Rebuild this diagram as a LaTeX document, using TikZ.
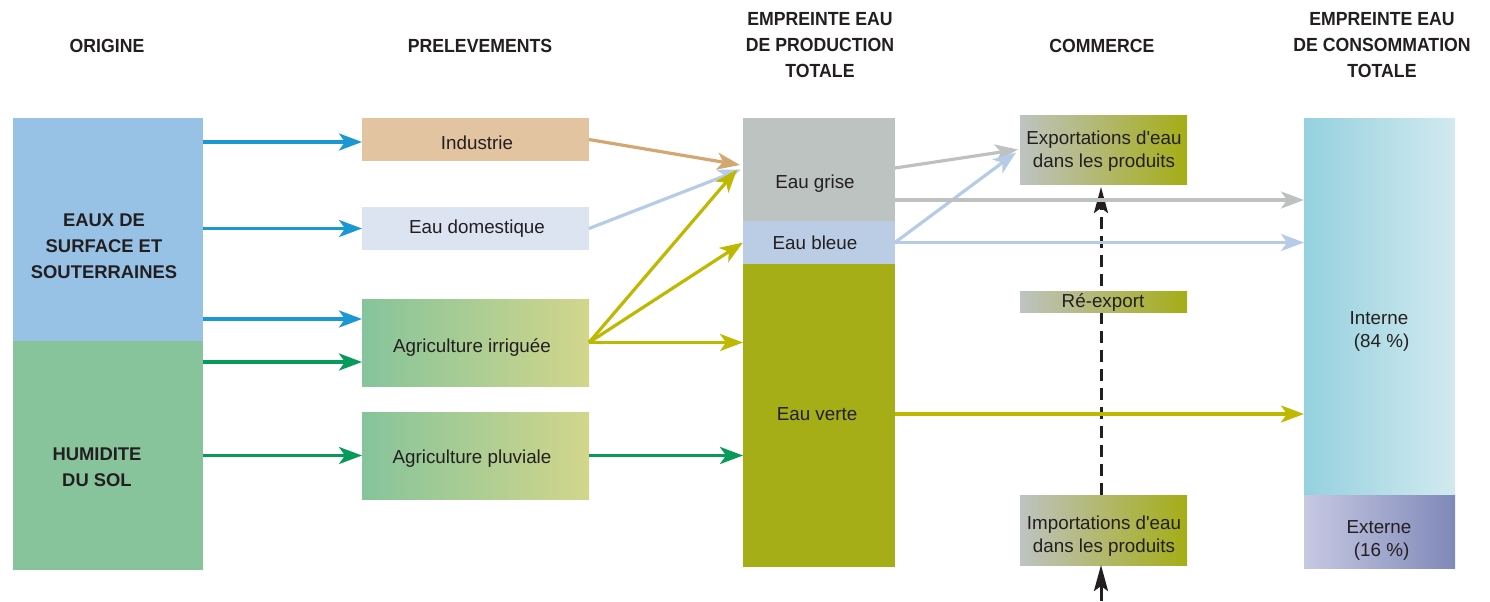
\documentclass[tikz,border=0pt]{standalone}
\usepackage{fontspec}
\setmainfont{Liberation Sans}
\newfontfamily\hdrfont[FakeStretch=0.93]{Liberation Sans}
\newfontfamily\lblfont{Liberation Sans}
\usetikzlibrary{arrows.meta,calc}
\definecolor{txt}{HTML}{231F20}
\definecolor{eauxc}{HTML}{98C2E5}
\definecolor{humc}{HTML}{87C49C}
\definecolor{indc}{HTML}{E3C4A0}
\definecolor{domc}{HTML}{DCE4F1}
\definecolor{agrL}{HTML}{86C49B}
\definecolor{agrR}{HTML}{D2D68B}
\definecolor{grisc}{HTML}{BDC3C1}
\definecolor{bleuc}{HTML}{BACDE5}
\definecolor{vertc}{HTML}{A6AE17}
\definecolor{comL}{HTML}{BEC3C1}
\definecolor{comR}{HTML}{A5AD16}
\definecolor{intL}{HTML}{95D1DF}
\definecolor{intR}{HTML}{D2E9EF}
\definecolor{extL}{HTML}{C7C9E3}
\definecolor{extR}{HTML}{7F89B8}
\definecolor{arBlue}{HTML}{1B97D3}
\definecolor{arGreen}{HTML}{089A5A}
\definecolor{arTan}{HTML}{D3A770}
\definecolor{arLBlue}{HTML}{B5CBE6}
\definecolor{arOlive}{HTML}{BFB800}
\definecolor{arGray}{HTML}{BDC2C1}
\tikzset{
  box/.style={draw=none, anchor=north west, inner sep=0pt, outer sep=0pt},
  hdr/.style={font=\hdrfont\fontsize{9.5}{13.2}\selectfont\bfseries, text=txt, align=center, inner sep=0pt},
  bighdr/.style={font=\fontsize{9.2}{13}\selectfont\bfseries, text=txt, align=center, inner sep=0pt},
  lbl/.style={font=\lblfont\fontsize{9.4}{11.5}\selectfont, text=txt, align=center, inner sep=0pt},
  flow/.style={line width=1.6pt, -{Stealth[length=11.5pt, width=8.5pt, inset=3pt]}},
  imparrow/.style={line width=1.5pt, color=txt, -{Stealth[length=13pt, width=7pt, inset=2.5pt]}},
}
\begin{document}
\begin{tikzpicture}[x=0.5pt, y=-0.5pt]
\useasboundingbox (0,0) rectangle (1490,601);
% headers
\node[hdr] (hOrig) at (107,46) {ORIGINE};
\node[hdr] (hPrel) at (480,46) {PRELEVEMENTS};
\node[hdr] (hProd) at (820,45) {EMPREINTE EAU\\DE PRODUCTION\\TOTALE};
\node[hdr] (hComm) at (1102,46) {COMMERCE};
\node[hdr] (hCons) at (1382,45) {EMPREINTE EAU\\DE CONSOMMATION\\TOTALE};
% origin boxes
\node[box, fill=eauxc, minimum width=95pt, minimum height=111.5pt] (eaux) at (13,118) {};
\node[box, fill=humc, minimum width=95pt, minimum height=114.5pt] (hum) at (13,341) {};
\node[bighdr] (eauxT) at (104,246) {EAUX DE\\SURFACE ET\\SOUTERRAINES};
\node[bighdr] (humT) at (97,467) {HUMIDITE\\DU SOL};
% prelevements
\node[box, fill=indc, minimum width=113.5pt, minimum height=21.5pt] (indus) at (362,118) {};
\node[box, fill=domc, minimum width=113.5pt, minimum height=21.5pt] (dom) at (362,207) {};
\node[box, left color=agrL, right color=agrR, minimum width=113.5pt, minimum height=43.5pt] (irr) at (362,299) {};
\node[box, left color=agrL, right color=agrR, minimum width=113.5pt, minimum height=43.5pt] (pluv) at (362,412) {};
\node[lbl] (indusT) at (477,143) {Industrie};
\node[lbl] (domT) at (477,229) {Eau domestique};
\node[lbl] (irrT) at (472,348) {Agriculture irriguée};
\node[lbl] (pluvT) at (472,459) {Agriculture pluviale};
% production
\node[box, fill=grisc, minimum width=76pt, minimum height=51.5pt] (grise) at (743,118) {};
\node[box, fill=bleuc, minimum width=76pt, minimum height=21.5pt] (bleue) at (743,221) {};
\node[box, fill=vertc, minimum width=76pt, minimum height=151.5pt] (verte) at (743,264) {};
\node[lbl] (griseT) at (815,184) {Eau grise};
\node[lbl] (bleueT) at (815,243) {Eau bleue};
\node[lbl] (verteT) at (817,414) {Eau verte};
% commerce
\coordinate (impIn) at (1101,601);
\node[box, left color=comL, right color=comR, minimum width=83.5pt, minimum height=34.5pt] (exp) at (1020,115) {};
\node[box, left color=comL, right color=comR, minimum width=83.5pt, minimum height=35pt] (imp) at (1020,495) {};
\draw[line width=1.5pt, color=txt, dash pattern=on 6pt off 3.5pt, -{Stealth[length=13pt, width=7pt, inset=2.5pt]}, shorten >=1.5pt]
  (imp.north -| impIn) -- (exp.south -| impIn);
\node[box, left color=comL, right color=comR, minimum width=83.5pt, minimum height=10.5pt] (reexp) at (1020,291) {};
\node[lbl] (expT) at (1104,151) {Exportations d'eau\\dans les produits};
\node[lbl] (reexpT) at (1103,303) {Ré-export};
\node[lbl] (impT) at (1104,536) {Importations d'eau\\dans les produits};
\draw[imparrow] (impIn) -- (imp.south -| impIn);
% consumption
\node[box, left color=intL, right color=intR, minimum width=75.5pt, minimum height=188.5pt] (interne) at (1304,118) {};
\node[box, left color=extL, right color=extR, minimum width=75.5pt, minimum height=36.5pt] (externe) at (1304,495) {};
\node[lbl] (interneT) at (1379,331) {Interne\\\ (84 \%)};
\node[lbl] (externeT) at (1379,540) {Externe\\\ (16 \%)};
% arrows origin -> prelevements
\draw[flow, arBlue] ([yshift=-1.25pt]eaux.east |- indus.west) -- ([yshift=-1.25pt]indus.west);
\draw[flow, arBlue] (eaux.east |- dom.west) -- (dom.west);
\draw[flow, arBlue] ([yshift=-10pt]eaux.east |- irr.north west) -- ([yshift=-10pt]irr.north west);
\draw[flow, arGreen] ([yshift=-9.75pt]hum.east |- irr.west) -- ([yshift=-9.75pt]irr.west);
\draw[flow, arGreen] (hum.east |- pluv.west) -- (pluv.west);
% prelevements -> production
\draw[flow, arTan] (indus.east) -- ([yshift=2.25pt, xshift=-1.5pt]grise.west);
\draw[flow, arLBlue] (dom.east) -- ([xshift=-1pt]grise.west);
\draw[flow, arOlive] (irr.east) -- ([xshift=-3pt]grise.west);
\draw[flow, arOlive] (irr.east) -- (bleue.west);
\draw[flow, arOlive] (irr.east) -- (verte.west |- irr.east);
\draw[flow, arGreen] (pluv.east) -- (verte.west |- pluv.east);
% production -> commerce / consumption
\draw[flow, arGray] ([yshift=0.75pt]grise.east) -- ([xshift=-1pt]exp.west);
\draw[flow, arLBlue] (bleue.east) -- ([xshift=-2pt, yshift=-1.5pt]exp.west);
\draw[flow, arGray] ([yshift=-15.25pt]grise.east) -- ([yshift=-15.25pt]interne.west |- grise.east);
\draw[flow, arLBlue] (bleue.east) -- (interne.west |- bleue.east);
\draw[flow, arOlive] ([yshift=0.75pt]verte.east) -- ([yshift=0.75pt]interne.west |- verte.east);
\end{tikzpicture}
\end{document}
